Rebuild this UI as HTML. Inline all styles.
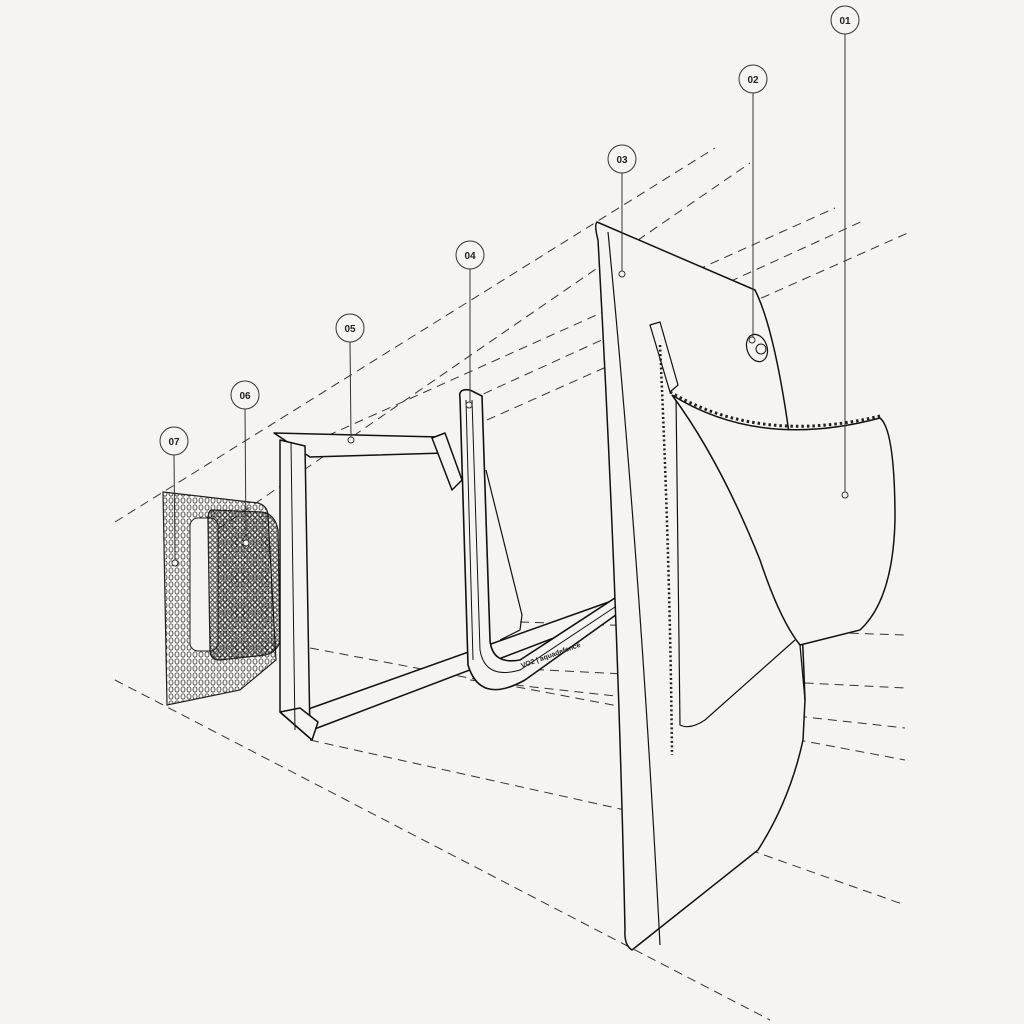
<!DOCTYPE html>
<html><head><meta charset="utf-8"><style>
html,body{margin:0;padding:0;background:#f5f4f2;}
svg{display:block}
text{font-family:"Liberation Sans",sans-serif;font-size:10px;font-weight:bold;fill:#222}
</style></head><body>
<svg width="1024" height="1024" viewBox="0 0 1024 1024" xmlns="http://www.w3.org/2000/svg">
<defs>
<pattern id="perf" width="6" height="7" patternUnits="userSpaceOnUse">
<ellipse cx="3" cy="3.5" rx="2" ry="2.6" fill="none" stroke="#333" stroke-width="0.8"/>
</pattern>
<pattern id="perf2" width="5" height="5" patternUnits="userSpaceOnUse">
<circle cx="2.5" cy="2.5" r="1.8" fill="none" stroke="#111" stroke-width="1"/>
</pattern>
</defs>
<rect width="1024" height="1024" fill="#f5f4f2"/>
<g stroke="#333" stroke-width="1" stroke-dasharray="9,6" fill="none">
<line x1="115" y1="522" x2="715" y2="148"/>
<line x1="205" y1="538" x2="750" y2="163"/>
<line x1="300" y1="448" x2="835" y2="208"/>
<line x1="470" y1="400" x2="865" y2="220"/>
<line x1="487" y1="420" x2="910" y2="232"/>
<line x1="115" y1="680" x2="770" y2="1020"/>
<line x1="310" y1="740" x2="625" y2="810"/>
<line x1="310" y1="648" x2="905" y2="760"/>
<line x1="520" y1="622" x2="905" y2="635"/>
<line x1="505" y1="668" x2="905" y2="688"/>
<line x1="470" y1="680" x2="905" y2="728"/>
<line x1="750" y1="850" x2="905" y2="905"/>
</g>
<path d="M163 492 L258 503 Q268 506 268 516 L276 660 L240 690 L167 705 Z" fill="url(#perf)" stroke="#222" stroke-width="1.2"/>
<rect x="190" y="518" width="28" height="133" rx="8" fill="#f5f4f2" stroke="#222"/>
<path d="M212 510 L262 512 Q275 514 278 530 L280 640 Q278 652 265 655 L220 660 Q210 660 210 650 L208 520 Q208 510 212 510Z" fill="url(#perf2)" stroke="#111" stroke-width="1.3" opacity="0.9"/>
<g fill="#f5f4f2" stroke="#111" stroke-width="1.5" stroke-linejoin="round">
<path d="M274 433 L440 437 L445 453 L310 457 Z"/>
<path d="M432 438 L445 433 L462 480 L452 490 Z"/>
<path d="M300 712 L620 598 L622 612 L312 730 Z"/>
<path d="M280 440 L305 446 L310 735 L312 740 L280 712 Z"/>
<path d="M280 712 L300 708 L318 722 L312 740 Z"/>
</g>
<line x1="291" y1="442" x2="295" y2="730" stroke="#111" stroke-width="1"/>
<path d="M460 398 Q458 388 470 390 L482 396 L490 640 Q492 665 520 660 L615 598 L620 612 L525 680 Q480 705 468 665 Z" fill="#f5f4f2" stroke="#111" stroke-width="1.6"/>
<path d="M472 400 L480 650 Q485 680 520 670 L618 605" fill="none" stroke="#111" stroke-width="1"/>
<path d="M466 400 L473 660" fill="none" stroke="#111" stroke-width="1"/>
<path d="M486 470 L522 615 L520 630 L500 640" fill="none" stroke="#111" stroke-width="1.2"/>
<text x="522" y="668" transform="rotate(-20 522 668)" style="font-size:7px">VO2 | aquadefence</text>
<path d="M597 222 L755 290 Q775 330 790 440 Q800 560 805 700 L803 740 Q790 800 758 850 L632 950 Q624 945 625 930 Q618 600 598 240 Q594 225 597 222 Z" fill="#f5f4f2" stroke="#111" stroke-width="1.5"/>
<path d="M608 232 Q640 560 660 945" fill="none" stroke="#111" stroke-width="1.2"/>
<path d="M660 345 Q670 560 672 755" fill="none" stroke="#222" stroke-width="2.5" stroke-dasharray="2,2.5"/>
<path d="M650 325 L660 322 L678 385 L670 392 Z" fill="none" stroke="#111" stroke-width="1.2"/>
<path d="M676 395 L680 725 Q690 730 705 720 L795 640" fill="none" stroke="#111" stroke-width="1.2"/>
<path d="M672 395 Q760 450 880 418 Q895 430 895 520 Q893 600 860 630 L800 645 Q780 620 760 560 Q720 460 672 395 Z" fill="#f5f4f2" stroke="#111" stroke-width="1.5"/>
<path d="M670 392 Q760 445 880 416" fill="none" stroke="#222" stroke-width="3" stroke-dasharray="2.5,3"/>
<path d="M800 645 L805 700" fill="none" stroke="#111" stroke-width="1.3"/>
<ellipse cx="757" cy="348" rx="10" ry="14" fill="none" stroke="#111" stroke-width="1.2" transform="rotate(-20 757 348)"/>
<circle cx="761" cy="349" r="5" fill="none" stroke="#111"/>
<g stroke="#333" stroke-width="1" fill="#f5f4f2">
<line x1="845" y1="34" x2="845" y2="492"/><circle cx="845" cy="495" r="3"/>
<line x1="753" y1="93" x2="753" y2="337"/><circle cx="752" cy="340" r="3"/>
<line x1="622" y1="173" x2="622" y2="271"/><circle cx="622" cy="274" r="3"/>
<line x1="470" y1="269" x2="470" y2="402"/><circle cx="469" cy="405" r="3"/>
<line x1="350" y1="342" x2="351" y2="437"/><circle cx="351" cy="440" r="3"/>
<line x1="245" y1="409" x2="246" y2="540"/><circle cx="246" cy="543" r="3"/>
<line x1="174" y1="455" x2="175" y2="560"/><circle cx="175" cy="563" r="3"/>
<circle cx="845" cy="20" r="14"/><circle cx="753" cy="79" r="14"/><circle cx="622" cy="159" r="14"/>
<circle cx="470" cy="255" r="14"/><circle cx="350" cy="328" r="14"/><circle cx="245" cy="395" r="14"/><circle cx="174" cy="441" r="14"/>
</g>
<g text-anchor="middle">
<text x="845" y="24">01</text><text x="753" y="83">02</text><text x="622" y="163">03</text>
<text x="470" y="259">04</text><text x="350" y="332">05</text><text x="245" y="399">06</text><text x="174" y="445">07</text>
</g>
</svg>
</body></html>
